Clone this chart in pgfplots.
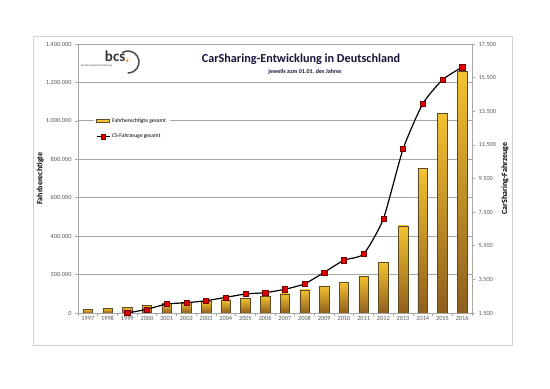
\documentclass[border=0pt]{standalone}
\usepackage{pgfplots}
\pgfplotsset{compat=1.18}
\usepackage{fontspec}
\setmainfont{Carlito}
\definecolor{barY}{HTML}{F2C230}
\definecolor{barB}{HTML}{8E5E1E}
\definecolor{gridc}{HTML}{A6A6A6}
\definecolor{tickc}{HTML}{595959}
\definecolor{titc}{HTML}{15153A}
\definecolor{mred}{HTML}{E00000}
\definecolor{bardraw}{HTML}{5E4A22}

\pgfplotstableread{
year val
1997 19000
1998 24500
1999 30000
2000 40000
2001 50000
2002 54000
2003 59000
2004 68000
2005 78000
2006 87000
2007 99000
2008 120000
2009 140000
2010 160000
2011 192000
2012 262000
2013 453000
2014 753000
2015 1039000
2016 1258000
}\fahrber

\pgfplotstableread{
year val
1999 1500
2000 1720
2001 2035
2002 2110
2003 2230
2004 2430
2005 2630
2006 2710
2007 2910
2008 3230
2009 3920
2010 4640
2011 5010
2012 7100
2013 11250
2014 13940
2015 15370
2016 16125
}\fahrz

\pgfplotsset{
  common/.style={
    at={(78pt,76pt)}, anchor=south west,
    scale only axis, width=394pt, height=269pt,
    xmin=1996.5, xmax=2016.5,
    /pgf/number format/fixed,
    /pgf/number format/1000 sep={.},
    /pgf/number format/assume math mode=true,
    scaled y ticks=false,
    tick label style={font=\fontsize{6.3}{7}\selectfont, text=tickc},
    axis line style={gridc, line width=0.8pt},
    tick style={gridc, line width=0.6pt},
    tick align=outside,
    major tick length=3pt,
  }
}

\begin{document}
\begin{tikzpicture}
\path[use as bounding box] (0,0) rectangle (550pt,389pt);
\draw[draw=black!18, line width=1pt] (33pt,43pt) rectangle (512pt,352pt);

\begin{axis}[
  common,
  ymin=0, ymax=1400000,
  ytick={0,200000,...,1400000},
  axis y line*=left, axis x line*=bottom,
  ymajorgrids, grid style={gridc, line width=0.8pt},
  xtick={1996.5,1997.5,...,2016.5},
  xticklabels={},
  extra x ticks={1997,1998,1999,2000,2001,2002,2003,2004,2005,2006,2007,2008,2009,2010,2011,2012,2013,2014,2015,2016},
  extra x tick labels={1997,1998,1999,2000,2001,2002,2003,2004,2005,2006,2007,2008,2009,2010,2011,2012,2013,2014,2015,2016},
  extra x tick style={major tick length=0pt, grid=none},
  ylabel={Fahrberechtigte},
  ylabel style={font=\bfseries\fontsize{8}{9}\selectfont, at={(axis description cs:-0.096,0.5)}, anchor=center, rotate=0},
]
\pgfplotsinvokeforeach{1997,...,2016}{
\addplot[ybar, bar width=9.5pt, bar shift=0pt, draw=bardraw, line width=0.5pt,
  top color=barY, middle color=barY, bottom color=barB,
  restrict x to domain=#1:#1]
  table[x=year, y=val] {\fahrber};
}
\end{axis}

\begin{axis}[
  common,
  ymin=1500, ymax=17500,
  ytick={1500,3500,...,17500},
  axis y line*=right, axis x line=none,
  ylabel={CarSharing-Fahrzeuge},
  ylabel style={font=\bfseries\fontsize{8}{9}\selectfont, at={(axis description cs:1.084,0.5)}, anchor=center, rotate=0},
  legend style={at={(axis description cs:0.04,0.74)}, anchor=north west,
    draw=none, fill=white, font=\fontsize{5.6}{6}\selectfont, row sep=6.5pt,
    inner xsep=2pt, inner ysep=2pt},
  legend cell align=left,
]
\addlegendimage{legend image code/.code={\draw[draw=bardraw, fill=barY, line width=0.5pt] (0pt,-1.5pt) rectangle (13pt,1.5pt);}}
\addlegendentry{Fahrberechtigte gesamt}
\addplot[black, line width=1.2pt, smooth, tension=0.35, mark=square*,
  mark options={fill=mred, draw=red!45!black, line width=0.4pt}, mark size=2.6pt,
  legend image code/.code={\draw[black, line width=1.2pt] (0pt,0pt) -- (13pt,0pt);
     \draw[fill=mred, draw=red!45!black, line width=0.4pt] (4.5pt,-2.2pt) rectangle (8.5pt,2.2pt);}]
  table[x=year, y=val] {\fahrz};
\addlegendentry{CS-Fahrzeuge gesamt}
\end{axis}

% title
\node[font=\bfseries\fontsize{12.2}{13}\selectfont, text=titc] at (301pt,330pt) {CarSharing-Entwicklung in Deutschland};
\node[font=\bfseries\fontsize{6}{7}\selectfont, text=titc] at (305pt,317.5pt) {jeweils zum 01.01. des Jahres};

% logo
\node[font=\bfseries\fontsize{15}{15}\selectfont, text=black!80, anchor=base east, inner sep=0pt] at (125.5pt,327.3pt) {bcs};
\fill[orange] (127.3pt,328.3pt) circle (1.3pt);
\draw[black!70, line width=1.5pt] (128pt,327pt) ++(122:11pt) arc[start angle=122, end angle=-92, radius=11pt];
\node[font=\fontsize{2.8}{3}\selectfont, text=black!75, anchor=west, inner sep=0pt] at (81pt,323pt) {Bundesverband CarSharing};
\end{tikzpicture}
\end{document}
